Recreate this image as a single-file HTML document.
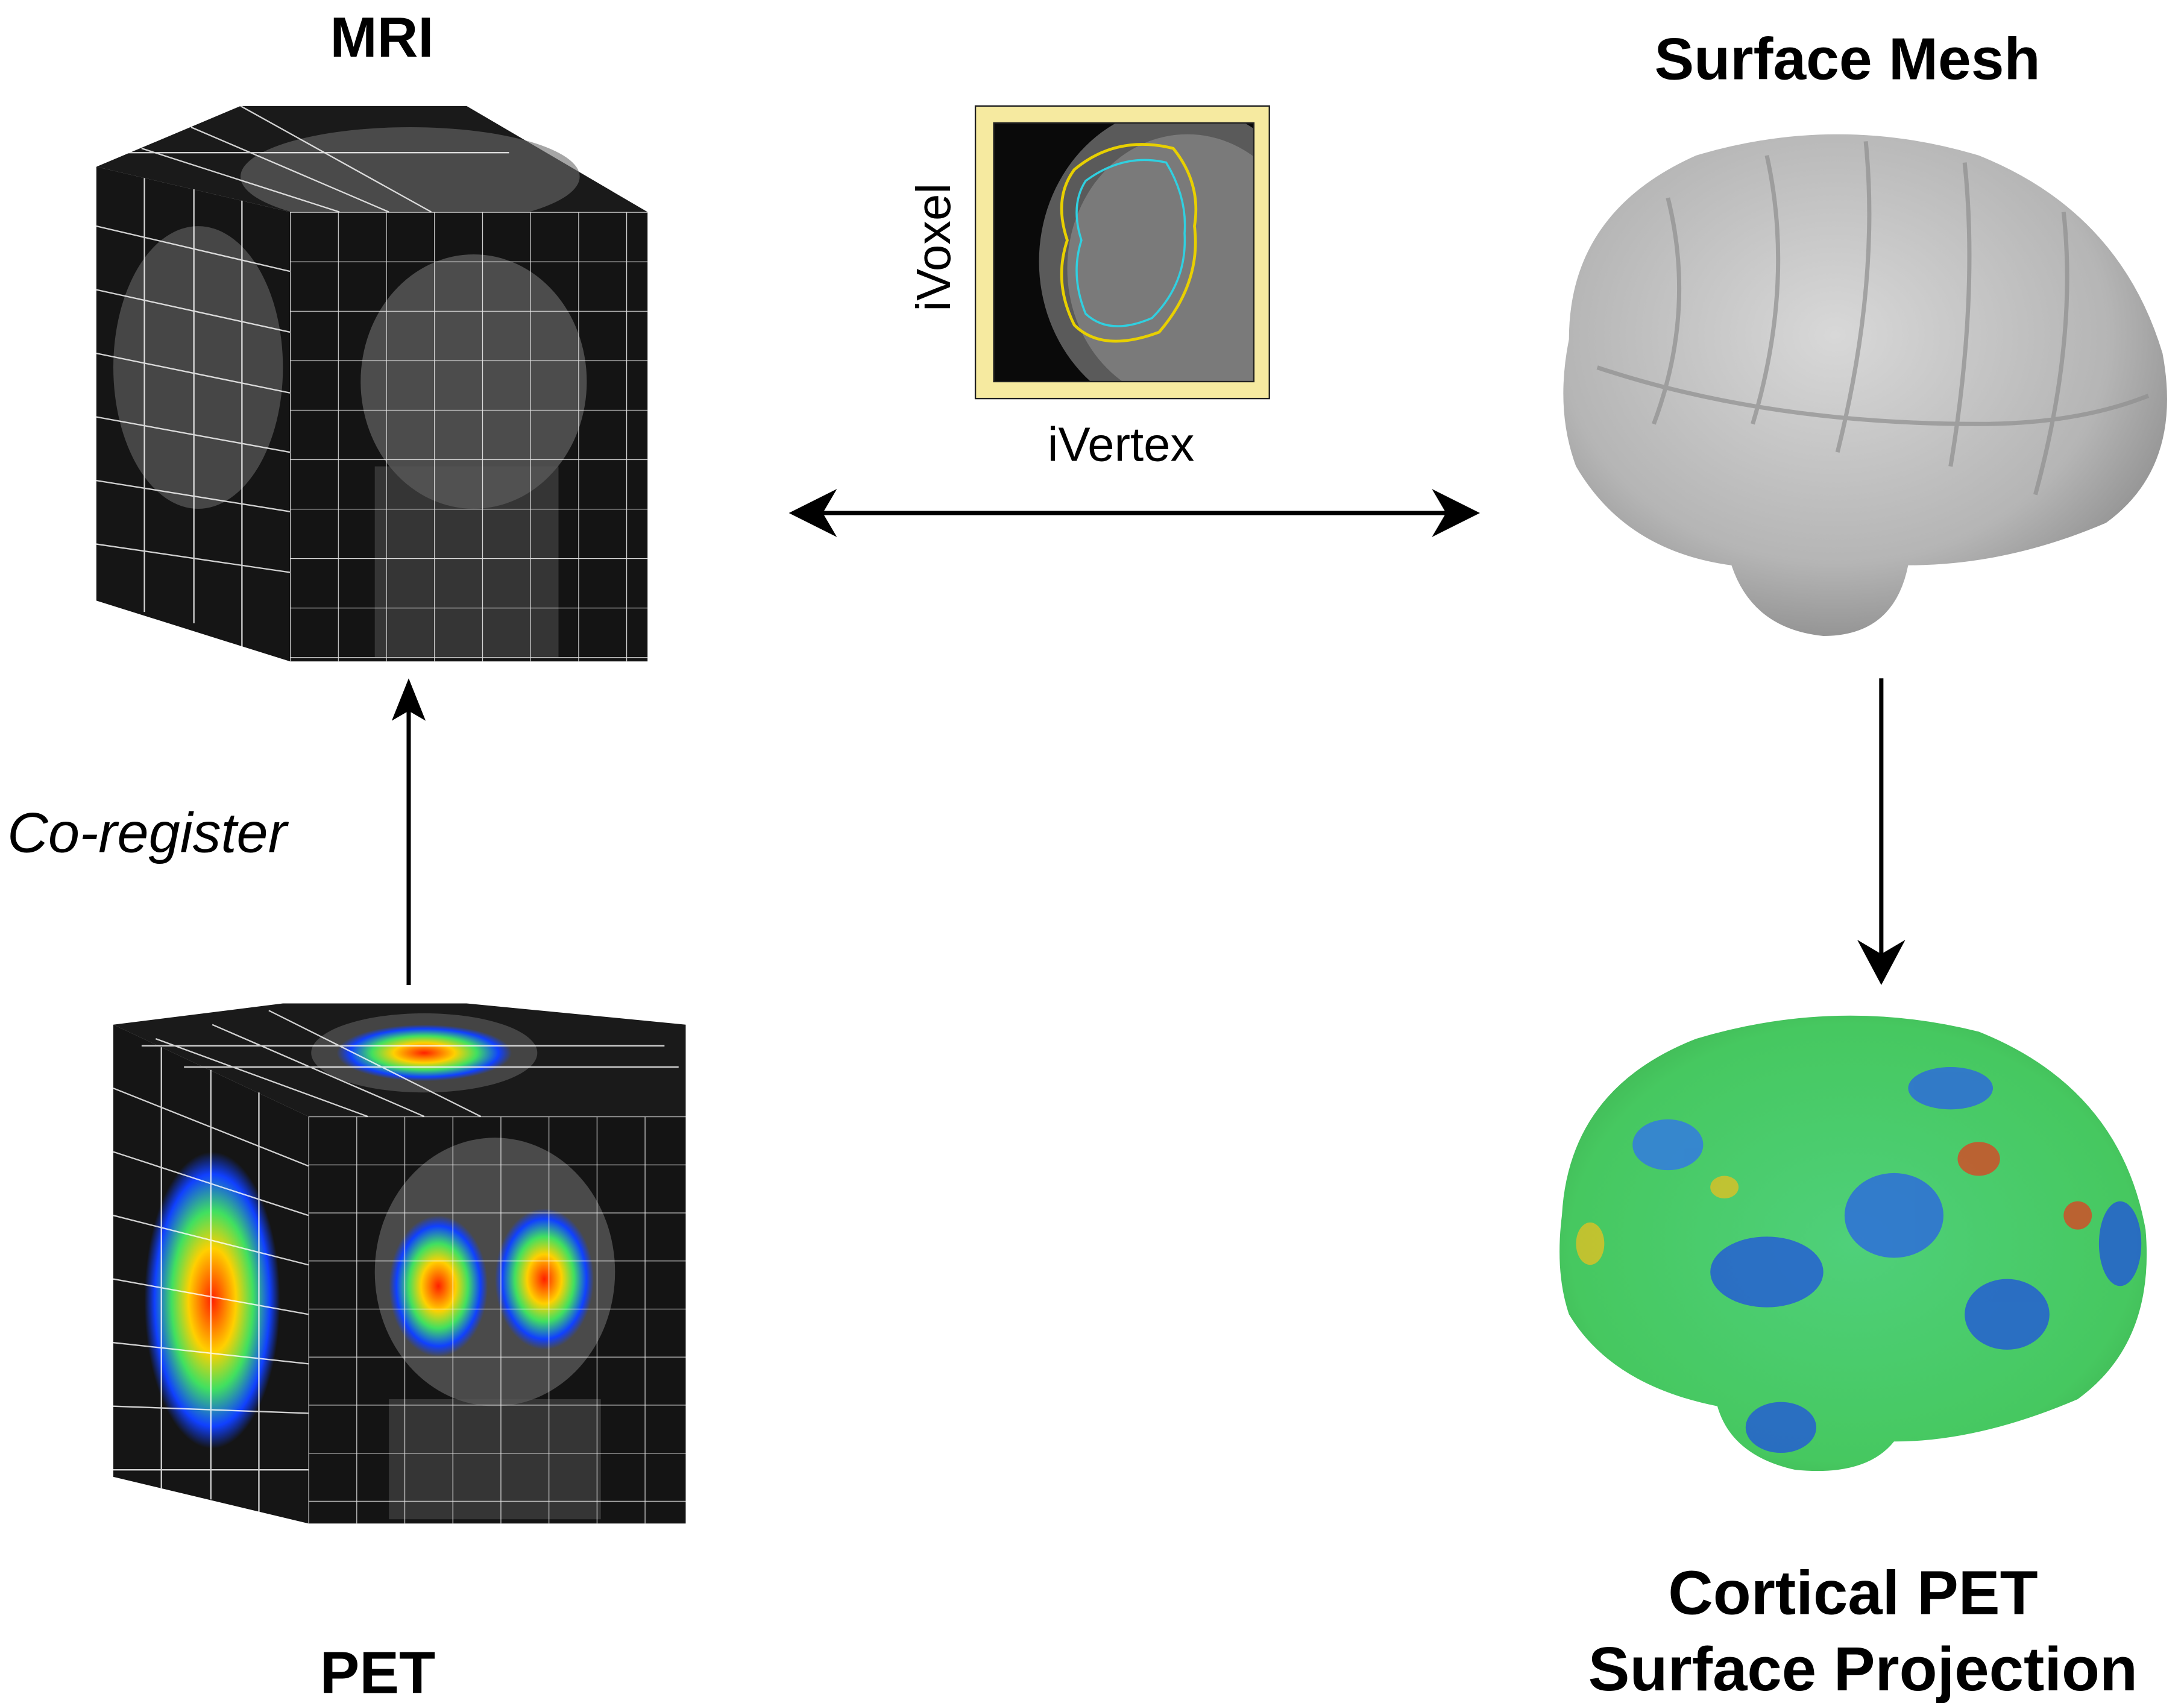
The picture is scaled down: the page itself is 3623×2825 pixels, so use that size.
<!DOCTYPE html>
<html><head><meta charset="utf-8"><style>
html,body{margin:0;padding:0;background:#fff}
svg{display:block}
text{font-family:"Liberation Sans",Arial,sans-serif}
</style></head><body>
<svg width="3623" height="2825" viewBox="0 0 1545 1205" xmlns="http://www.w3.org/2000/svg">
<defs>
<clipPath id="inclip"><rect x="703" y="87" width="184" height="183"/></clipPath>
<radialGradient id="gray" cx="45%" cy="40%" r="65%">
<stop offset="0" stop-color="#d8d8d8"/><stop offset="0.7" stop-color="#b5b5b5"/><stop offset="1" stop-color="#8a8a8a"/>
</radialGradient>
<radialGradient id="grn" cx="50%" cy="50%" r="60%">
<stop offset="0" stop-color="#4fd07a"/><stop offset="0.8" stop-color="#46c860"/><stop offset="1" stop-color="#3fb050"/>
</radialGradient>
<radialGradient id="hot" cx="50%" cy="50%" r="50%">
<stop offset="0" stop-color="#ff2000"/><stop offset="0.35" stop-color="#ffd000"/><stop offset="0.6" stop-color="#40e060"/><stop offset="0.85" stop-color="#1040ff"/><stop offset="1" stop-color="#1040ff" stop-opacity="0"/>
</radialGradient>
<pattern id="grid1" width="34" height="35" patternUnits="userSpaceOnUse" x="205" y="150">
<path d="M0 0H34M0 0V35" stroke="#fff" stroke-width="1" fill="none" opacity="0.85"/>
</pattern>
<pattern id="grid2" width="34" height="34" patternUnits="userSpaceOnUse" x="218" y="790">
<path d="M0 0H34M0 0V34" stroke="#fff" stroke-width="1" fill="none" opacity="0.85"/>
</pattern>
</defs>

<text x="270" y="40" font-size="40" font-weight="bold" text-anchor="middle">MRI</text>
<polygon points="68,118 205,150 458,150 330,75 170,75" fill="#1a1a1a"/>
<ellipse cx="290" cy="125" rx="120" ry="35" fill="#6a6a6a" opacity="0.6"/>
<polygon points="68,118 205,150 205,468 68,425" fill="#151515"/>
<ellipse cx="140" cy="260" rx="60" ry="100" fill="#777" opacity="0.5"/>
<rect x="205" y="150" width="253" height="318" fill="#141414"/>
<ellipse cx="335" cy="270" rx="80" ry="90" fill="#7a7a7a" opacity="0.55"/>
<rect x="265" y="330" width="130" height="135" fill="#555" opacity="0.5"/>
<rect x="205" y="150" width="253" height="318" fill="url(#grid1)"/>
<g stroke="#fff" stroke-width="1" opacity="0.8" fill="none">
<path d="M68,160 L205,192 M68,205 L205,235 M68,250 L205,278 M68,295 L205,320 M68,340 L205,362 M68,385 L205,405"/>
<path d="M102,126 V433 M137,134 V441 M171,142 V460"/>
<path d="M100,105 L240,150 M135,90 L275,150 M170,75 L305,150 M90,108 L360,108"/>
</g>

<line x1="289" y1="697" x2="289" y2="498" stroke="#000" stroke-width="3"/>
<polygon points="289,480 277,510 289,503 301,510" fill="#000"/>
<text x="5" y="603" font-size="40" font-style="italic">Co-register</text>

<polygon points="80,725 218,790 485,790 485,725 330,710 200,710" fill="#1a1a1a"/>
<ellipse cx="300" cy="745" rx="80" ry="28" fill="#444"/>
<ellipse cx="300" cy="745" rx="62" ry="20" fill="url(#hot)"/>
<polygon points="80,725 218,790 218,1078 80,1045" fill="#151515"/>
<ellipse cx="150" cy="920" rx="48" ry="105" fill="url(#hot)"/>
<rect x="218" y="790" width="267" height="288" fill="#141414"/>
<ellipse cx="350" cy="900" rx="85" ry="95" fill="#4a4a4a"/>
<ellipse cx="310" cy="910" rx="35" ry="50" fill="url(#hot)"/>
<ellipse cx="385" cy="905" rx="35" ry="50" fill="url(#hot)"/>
<rect x="275" y="990" width="150" height="85" fill="#555" opacity="0.5"/>
<rect x="218" y="790" width="267" height="288" fill="url(#grid2)"/>
<g stroke="#fff" stroke-width="1" opacity="0.8" fill="none">
<path d="M80,770 L218,825 M80,815 L218,860 M80,860 L218,895 M80,905 L218,930 M80,950 L218,965 M80,995 L218,1000 M80,1040 L218,1040"/>
<path d="M114,741 V1053 M149,757 V1061 M183,773 V1070"/>
<path d="M110,735 L260,790 M150,725 L300,790 M190,715 L340,790 M100,740 L470,740 M130,755 L480,755"/>
</g>
<text x="267" y="1198" font-size="42" font-weight="bold" text-anchor="middle">PET</text>

<rect x="690" y="75" width="208" height="207" fill="#f6eaa0" stroke="#222" stroke-width="1"/>
<rect x="703" y="87" width="184" height="183" fill="#0a0a0a"/>
<g clip-path="url(#inclip)">
<ellipse cx="835" cy="185" rx="100" ry="110" fill="#5a5a5a"/>
<ellipse cx="840" cy="190" rx="85" ry="95" fill="#7a7a7a"/>
<path d="M760,120 Q790,95 830,105 Q850,130 845,160 Q850,200 820,235 Q780,250 760,230 Q745,200 755,170 Q745,140 760,120Z" fill="none" stroke="#e8d000" stroke-width="2"/>
<path d="M768,128 Q795,108 825,115 Q840,140 838,165 Q840,200 815,225 Q785,238 768,222 Q757,195 765,170 Q757,145 768,128Z" fill="none" stroke="#30d0e0" stroke-width="1.5"/>
</g>
<rect x="703" y="87" width="184" height="183" fill="none" stroke="#222" stroke-width="1"/>
<text x="0" y="0" font-size="34" text-anchor="middle" transform="translate(672,175) rotate(-90)">iVoxel</text>
<text x="793" y="326" font-size="34" text-anchor="middle">iVertex</text>

<line x1="575" y1="363" x2="1030" y2="363" stroke="#000" stroke-width="3"/>
<polygon points="558,363 592,346 582,363 592,380" fill="#000"/>
<polygon points="1047,363 1013,346 1023,363 1013,380" fill="#000"/>

<text x="1307" y="56" font-size="42" font-weight="bold" text-anchor="middle">Surface Mesh</text>
<path d="M1110,240 Q1110,150 1200,110 Q1300,80 1400,110 Q1500,150 1530,250 Q1545,330 1490,370 Q1420,400 1350,400 Q1340,450 1290,450 Q1240,445 1225,400 Q1150,390 1115,330 Q1100,290 1110,240Z" fill="url(#gray)"/>
<g stroke="#8f8f8f" stroke-width="3" fill="none" opacity="0.7">
<path d="M1180,140 Q1200,220 1170,300 M1250,110 Q1270,200 1240,300 M1320,100 Q1330,200 1300,320 M1390,115 Q1400,210 1380,330 M1460,150 Q1470,240 1440,350 M1130,260 Q1250,300 1400,300 Q1470,300 1520,280"/>
</g>

<line x1="1331" y1="480" x2="1331" y2="680" stroke="#000" stroke-width="3"/>
<polygon points="1331,697 1314,665 1331,675 1348,665" fill="#000"/>

<path d="M1105,860 Q1110,770 1200,735 Q1300,705 1400,730 Q1500,770 1518,870 Q1525,950 1470,990 Q1400,1020 1340,1020 Q1320,1045 1270,1040 Q1225,1030 1215,995 Q1140,980 1110,930 Q1100,900 1105,860Z" fill="url(#grn)"/>
<g opacity="0.75">
<ellipse cx="1250" cy="900" rx="40" ry="25" fill="#2050e0"/>
<ellipse cx="1340" cy="860" rx="35" ry="30" fill="#2a60e8"/>
<ellipse cx="1420" cy="930" rx="30" ry="25" fill="#2050e0"/>
<ellipse cx="1180" cy="810" rx="25" ry="18" fill="#3070f0"/>
<ellipse cx="1380" cy="770" rx="30" ry="15" fill="#2a60e8"/>
<ellipse cx="1260" cy="1010" rx="25" ry="18" fill="#2050e0"/>
<ellipse cx="1500" cy="880" rx="15" ry="30" fill="#2050e0"/>
<ellipse cx="1400" cy="820" rx="15" ry="12" fill="#e04020"/>
<ellipse cx="1125" cy="880" rx="10" ry="15" fill="#e8c020"/>
<ellipse cx="1470" cy="860" rx="10" ry="10" fill="#e04020"/>
<ellipse cx="1220" cy="840" rx="10" ry="8" fill="#e8c020"/>
</g>
<text x="1311" y="1142" font-size="44" font-weight="bold" text-anchor="middle">Cortical PET</text>
<text x="1318" y="1196" font-size="44" font-weight="bold" text-anchor="middle">Surface Projection</text>
</svg>
</body></html>
